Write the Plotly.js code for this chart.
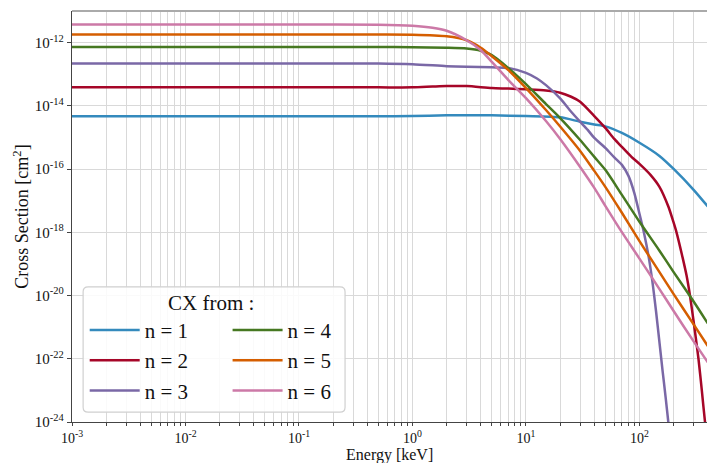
<!DOCTYPE html>
<html><head><meta charset="utf-8">
<script src="https://cdn.plot.ly/plotly-3.0.1.min.js"></script>
<style>html,body{margin:0;padding:0;background:#fff}#chart{width:708px;height:463px}</style>
</head><body><div id="chart"></div>
<script>
// ---- data (energy in keV, cross section in cm^2) ----
const seriesNames = ["n = 1", "n = 2", "n = 3", "n = 4", "n = 5", "n = 6"];
const seriesColors = ["#348ABD", "#A60628", "#7A68A6", "#467821", "#D55E00", "#CC79A7"];

const E_n1 = [0.001, 0.01, 0.1, 0.5, 1, 2, 3, 5, 10, 20, 30, 40, 50, 70, 100, 150, 200, 300, 400];
const S_n1 = [4.67e-15, 4.67e-15, 4.67e-15, 4.67e-15, 4.76e-15, 5.01e-15, 5.05e-15, 5.0e-15, 4.75e-15, 4.33e-15, 3.15e-15, 2.57e-15, 2.25e-15, 1.39e-15, 6.8e-16, 2.61e-16, 1.01e-16, 2.21e-17, 6.56e-18];

const E_n2 = [0.001, 0.01, 0.1, 0.5, 1, 1.5, 2, 3, 5, 7, 10, 15, 20, 25, 30, 40, 50, 60, 70, 85, 100, 125, 150, 180, 200, 212, 240, 260, 279, 300, 331, 355, 378, 400];
const S_n2 = [3.84e-14, 3.84e-14, 3.84e-14, 3.84e-14, 3.84e-14, 4.07e-14, 4.22e-14, 4.22e-14, 3.65e-14, 3.52e-14, 3.32e-14, 3.04e-14, 2.59e-14, 1.94e-14, 1.35e-14, 4.76e-15, 2.00e-15, 8.97e-16, 5.01e-16, 2.43e-16, 1.46e-16, 6.56e-17, 2.74e-17, 6.43e-18, 2.01e-18, 1.0e-18, 1.58e-19, 4.27e-20, 9.64e-21, 1.51e-21, 1.0e-22, 9.37e-24, 1.0e-24, 2.0e-25];

const E_n3 = [0.001, 0.01, 0.1, 0.5, 1, 2, 3, 5, 7, 10, 12.5, 15, 20, 25, 30, 35, 40, 50, 60, 70, 80, 90, 100, 110, 120, 130, 140, 150, 160, 170, 180, 195];
const S_n3 = [2.19e-13, 2.19e-13, 2.19e-13, 2.19e-13, 2.08e-13, 1.80e-13, 1.71e-13, 1.65e-13, 1.58e-13, 1.11e-13, 7.36e-14, 4.53e-14, 1.73e-14, 6.52e-15, 3.15e-15, 1.73e-15, 9.64e-16, 4.67e-16, 2.34e-16, 1.36e-16, 6.10e-17, 1.77e-17, 3.86e-18, 9.03e-19, 1.83e-19, 2.77e-20, 3.13e-21, 3.29e-22, 4.00e-23, 6.05e-24, 9.16e-25, 6.70e-26];

const E_n4 = [0.001, 0.01, 0.1, 0.5, 1, 2, 3, 4, 5, 7, 10, 15, 20, 30, 40, 50, 70, 100, 150, 200, 300, 400];
const S_n4 = [7.31e-13, 7.31e-13, 7.31e-13, 7.31e-13, 7.16e-13, 6.90e-13, 6.52e-13, 5.55e-13, 4.01e-13, 1.56e-13, 4.88e-14, 1.14e-14, 4.12e-15, 8.34e-16, 2.43e-16, 9.44e-17, 1.53e-17, 2.16e-18, 2.62e-19, 5.51e-20, 6.47e-21, 1.31e-21];

const E_n5 = [0.001, 0.01, 0.1, 0.5, 1, 2, 3, 4, 5, 7, 10, 15, 20, 30, 40, 50, 70, 100, 150, 200, 300, 400];
const S_n5 = [1.80e-12, 1.80e-12, 1.80e-12, 1.80e-12, 1.78e-12, 1.59e-12, 1.19e-12, 6.90e-13, 3.72e-13, 1.35e-13, 3.65e-14, 7.38e-15, 2.22e-15, 3.75e-16, 8.77e-17, 2.74e-17, 4.15e-18, 5.24e-19, 5.51e-20, 1.11e-20, 1.22e-21, 2.52e-22];

const E_n6 = [0.001, 0.01, 0.1, 0.5, 1, 1.5, 2, 3, 4, 5, 7, 10, 15, 20, 30, 40, 50, 70, 100, 150, 200, 300, 400];
const S_n6 = [3.72e-12, 3.72e-12, 3.72e-12, 3.70e-12, 3.41e-12, 2.95e-12, 2.37e-12, 1.19e-12, 5.75e-13, 2.46e-13, 6.52e-14, 1.76e-14, 3.32e-15, 8.97e-16, 1.17e-16, 2.55e-17, 6.90e-18, 1.01e-18, 1.47e-19, 1.60e-20, 3.24e-21, 3.54e-22, 7.69e-23];

const xTickVals = [1e-3, 1e-2, 1e-1, 1e0, 1e1, 1e2];
const xTickText = ["10<sup>-3</sup>", "10<sup>-2</sup>", "10<sup>-1</sup>", "10<sup>0</sup>", "10<sup>1</sup>", "10<sup>2</sup>"];
const yTickVals = [1e-24, 1e-22, 1e-20, 1e-18, 1e-16, 1e-14, 1e-12];
const yTickText = ["10<sup>-24</sup>", "10<sup>-22</sup>", "10<sup>-20</sup>", "10<sup>-18</sup>", "10<sup>-16</sup>", "10<sup>-14</sup>", "10<sup>-12</sup>"];

const energies = [E_n1, E_n2, E_n3, E_n4, E_n5, E_n6];
const sigmas = [S_n1, S_n2, S_n3, S_n4, S_n5, S_n6];

const FONT = "Liberation Serif, DejaVu Serif, serif";

const traces = seriesNames.map((name, i) => ({
  type: "scatter", mode: "lines", name: name,
  x: energies[i], y: sigmas[i],
  line: {color: seriesColors[i], width: 2.5, shape: "spline", smoothing: 0.7},
  legend: i < 3 ? "legend" : "legend2",
  legendgroup: "g" + i,
  hoverinfo: "skip"
}));

// rounded legend frame in paper coords
const bx0 = 0.0175, bx1 = 0.430, by0 = 0.024, by1 = 0.329, rx = 0.008, ry = 0.012;
const framePath = `M ${bx0+rx},${by0} L ${bx1-rx},${by0} Q ${bx1},${by0} ${bx1},${by0+ry} L ${bx1},${by1-ry} Q ${bx1},${by1} ${bx1-rx},${by1} L ${bx0+rx},${by1} Q ${bx0},${by1} ${bx0},${by1-ry} L ${bx0},${by0+ry} Q ${bx0},${by0} ${bx0+rx},${by0} Z`;

const legendCommon = {
  xanchor: "left", yanchor: "top",
  bgcolor: "rgba(0,0,0,0)", borderwidth: 0,
  font: {family: FONT, size: 21, color: "#111"},
  itemwidth: 50, tracegroupgap: 0, traceorder: "grouped"
};

const layout = {
  width: 708, height: 463,
  margin: {l: 72, r: 1, t: 11, b: 41},
  paper_bgcolor: "#fff", plot_bgcolor: "#fff",
  showlegend: true,
  font: {family: FONT, size: 14, color: "#111"},
  xaxis: {
    type: "log", range: [-3, 2.595],
    tickmode: "array", tickvals: xTickVals, ticktext: xTickText,
    showgrid: true, gridcolor: "#d9d9d9", gridwidth: 1,
    minor: {dtick: "D1", showgrid: true, gridcolor: "#d9d9d9", gridwidth: 1, ticks: "outside", ticklen: 2.5, tickcolor: "#444"},
    ticks: "outside", ticklen: 3, tickcolor: "#444",
    showline: true, linecolor: "#444", linewidth: 1.2,
    zeroline: false,
    tickfont: {family: FONT, size: 14, color: "#111"}
  },
  yaxis: {
    type: "log", range: [-24, -11],
    tickmode: "array", tickvals: yTickVals, ticktext: yTickText,
    showgrid: true, gridcolor: "#d9d9d9", gridwidth: 1,
    ticks: "outside", ticklen: 4, tickcolor: "#444",
    showline: true, linecolor: "#444", linewidth: 1.2,
    zeroline: false,
    tickfont: {family: FONT, size: 15, color: "#111"},
    title: {text: "Cross Section [cm<sup>2</sup>]", font: {family: FONT, size: 18, color: "#111"}, standoff: 1}
  },
  legend: Object.assign({x: 0.02, y: 0.273}, legendCommon),
  legend2: Object.assign({x: 0.245, y: 0.273}, legendCommon),
  shapes: [
    {type: "line", xref: "paper", yref: "paper", x0: 0, x1: 1, y0: 1, y1: 1, line: {color: "#aaaaaa", width: 2}},
    {type: "path", xref: "paper", yref: "paper", path: framePath, fillcolor: "rgba(255,255,255,0.85)", line: {color: "#d0d0d0", width: 1.2}, layer: "above"}
  ],
  annotations: [
    {xref: "paper", yref: "paper", x: 0.219, y: 0.2895, xanchor: "center", yanchor: "middle", showarrow: false,
     text: "CX from :", font: {family: FONT, size: 21, color: "#111"}},
    {xref: "paper", yref: "paper", x: 0.5, y: -0.0815, xanchor: "center", yanchor: "middle", showarrow: false,
     text: "Energy [keV]", font: {family: FONT, size: 16, color: "#111"}}
  ]
};

Plotly.newPlot("chart", traces, layout, {displayModeBar: false, staticPlot: true});
</script>
</body></html>
